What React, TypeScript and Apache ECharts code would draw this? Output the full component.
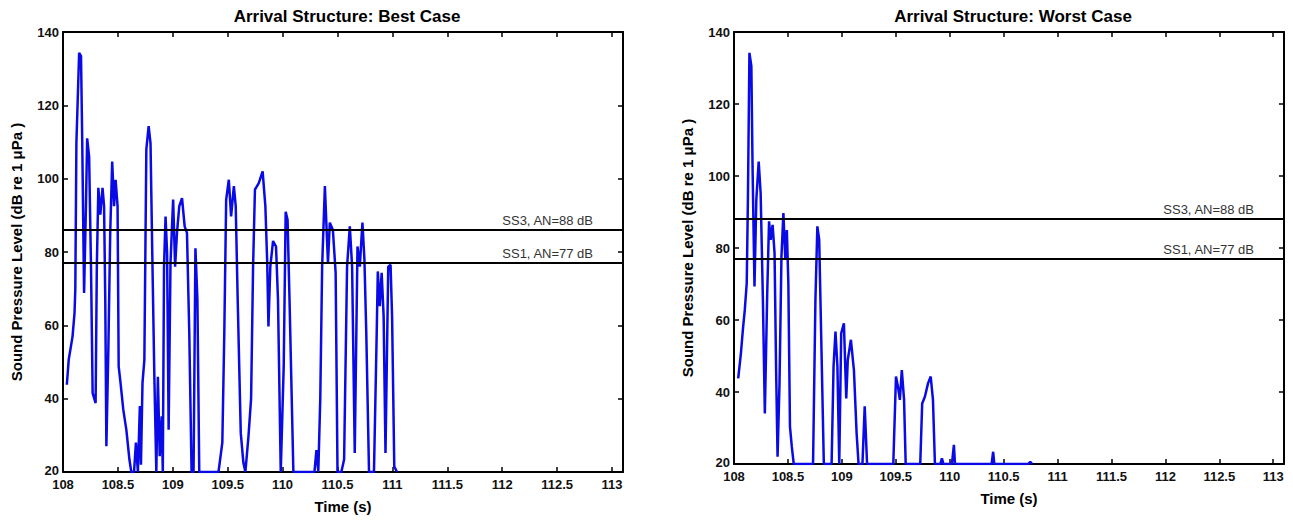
import React, { useEffect, useRef } from "react";
import * as echarts from "echarts";

const FONT = "Liberation Sans, Arial, sans-serif";

const bestTimes = [
  108.035, 108.052, 108.087, 108.105, 108.112, 108.122, 108.147, 108.164, 108.175, 108.192,
  108.21, 108.22, 108.238, 108.255, 108.27, 108.297, 108.308, 108.322, 108.34, 108.36,
  108.374, 108.385, 108.395, 108.413, 108.43, 108.448, 108.465, 108.479, 108.497, 108.507,
  108.524, 108.549, 108.577, 108.605, 108.622, 108.647, 108.664, 108.682, 108.7, 108.71,
  108.724, 108.741, 108.759, 108.78, 108.797, 108.815, 108.832, 108.85, 108.864, 108.881,
  108.899, 108.909, 108.92, 108.934, 108.948, 108.962, 108.979, 109.003, 109.021, 109.038,
  109.059, 109.084, 109.108, 109.129, 109.15, 109.171, 109.189, 109.206, 109.224, 109.241,
  109.416, 109.451, 109.469, 109.486, 109.51, 109.531, 109.556, 109.573, 109.591, 109.619,
  109.643, 109.661, 109.689, 109.713, 109.731, 109.748, 109.783, 109.818, 109.843, 109.86,
  109.871, 109.888, 109.913, 109.94, 109.958, 109.983, 110.01, 110.028, 110.045, 110.063,
  110.098, 110.29, 110.308, 110.325, 110.343, 110.36, 110.385, 110.402, 110.413, 110.43,
  110.458, 110.483, 110.5, 110.535, 110.56, 110.587, 110.612, 110.633, 110.657, 110.682,
  110.703, 110.727, 110.745, 110.762, 110.787, 110.832, 110.857, 110.867, 110.885, 110.902,
  110.92, 110.937, 110.962, 110.983, 110.997, 111.017, 111.042,
];
const bestLevels = [
  43.8, 50.6, 57, 63.4, 69.7, 109.7, 134.3, 133.4, 110.6, 68.8,
  94, 111, 106, 76, 41.5, 38.8, 76, 97.5, 90.2, 97.5,
  92.5, 67, 27, 53.4, 85.2, 104.7, 92.5, 99.7, 92.5, 48.8,
  44.3, 37, 31.5, 23.4, 20, 20, 28, 20, 38, 22,
  44.3, 50.6, 108, 114.3, 109.7, 76, 46, 20, 46, 24.3,
  35.2, 20, 76, 89.7, 79.7, 31.5, 77, 94.3, 76, 85.2,
  92.5, 94.7, 87, 85.2, 58, 20, 20, 81, 67, 20,
  20, 28, 58, 94.3, 99.7, 89.7, 98, 92.5, 67, 30.6,
  22.5, 20, 29.7, 40, 76, 97, 98.8, 102, 92.5, 77,
  59.7, 76, 83, 81.5, 67, 20, 48.8, 91, 88.8, 67,
  20, 20, 26, 20, 40, 76, 98, 85.2, 77, 88,
  86, 74.3, 20, 20, 23.4, 76, 87, 76, 25.2, 81.5,
  76, 88, 78, 58, 20, 20, 58, 74.7, 65.2, 74.3,
  62.5, 25.2, 76, 76.5, 62.5, 21.5, 20,
];

const worstTimes = [
  108.039, 108.064, 108.082, 108.1, 108.118, 108.129, 108.143, 108.161, 108.172, 108.19,
  108.207, 108.229, 108.247, 108.268, 108.286, 108.308, 108.325, 108.34, 108.358, 108.376,
  108.39, 108.404, 108.422, 108.44, 108.458, 108.476, 108.49, 108.504, 108.519, 108.536,
  108.554, 108.733, 108.755, 108.773, 108.79, 108.808, 108.833, 108.905, 108.923, 108.941,
  108.959, 108.976, 108.994, 109.019, 109.041, 109.055, 109.084, 109.112, 109.137, 109.155,
  109.191, 109.212, 109.234, 109.477, 109.502, 109.52, 109.538, 109.556, 109.577, 109.592,
  109.727, 109.745, 109.77, 109.799, 109.824, 109.845, 109.863, 109.913, 109.928, 109.942,
  110.021, 110.039, 110.049, 110.389, 110.403, 110.414, 110.729, 110.747, 110.765,
];
const worstLevels = [
  43.8, 50.7, 57.2, 62.8, 70.2, 93.4, 134.2, 130.5, 102.6, 69.3,
  93.4, 104, 95.2, 65.6, 34, 67.4, 87.4, 82.3, 86.4, 78.6,
  47, 22, 42.4, 77.6, 89.7, 76.7, 85, 70.2, 30.4, 24.8,
  20, 20, 65.6, 86, 82.3, 56.3, 20, 20, 47, 56.8,
  47, 20, 56.3, 59.1, 38.2, 48.9, 54.5, 46.1, 28.5, 20,
  20, 36, 20, 20, 44.3, 41.5, 37.8, 46.1, 37.8, 20,
  20, 36.8, 38.7, 42.4, 44.3, 37.8, 20, 20, 21.6, 20,
  20, 25.3, 20, 20, 23.4, 20, 20, 20.6, 20,
];

const thresholdLabels = ["SS3, AN=88 dB", "SS1, AN=77 dB"];
const bestThresholds = [86, 77];
const worstThresholds = [88, 77];
const titles = ["Arrival Structure: Best Case", "Arrival Structure: Worst Case"];
const xTitle = "Time (s)";
const yTitle = "Sound Pressure Level (dB re 1 μPa )";

const X_MIN = 108;
const X_MAX = 113.1;
const Y_MIN = 20;
const Y_MAX = 140;

function xAxes(gridIndex: number) {
  const common = {
    type: "value",
    gridIndex,
    min: X_MIN,
    max: X_MAX,
    interval: 0.5,
    splitLine: { show: false },
    axisLine: { show: true, onZero: false, lineStyle: { color: "#000", width: 2 } },
    axisTick: { show: true, inside: true, length: 5, lineStyle: { color: "#000", width: 1.5 } },
  };
  return [
    {
      ...common,
      position: "bottom",
      name: xTitle,
      nameLocation: "middle",
      nameGap: 27,
      nameTextStyle: { color: "#000", fontWeight: "bold", fontSize: 15, fontFamily: FONT },
      axisLabel: {
        color: "#111",
        fontWeight: "bold",
        fontSize: 13,
        lineHeight: 13,
        fontFamily: FONT,
        margin: 6,
        showMaxLabel: false,
        formatter: (v: number) => (Math.abs(v * 2 - Math.round(v * 2)) < 1e-6 ? String(v) : ""),
      },
    },
    { ...common, position: "top", axisLabel: { show: false } },
  ];
}

function yAxes(gridIndex: number) {
  const common = {
    type: "value",
    gridIndex,
    min: Y_MIN,
    max: Y_MAX,
    interval: 20,
    splitLine: { show: false },
    axisLine: { show: true, onZero: false, lineStyle: { color: "#000", width: 2 } },
    axisTick: { show: true, inside: true, length: 5, lineStyle: { color: "#000", width: 1.5 } },
  };
  return [
    {
      ...common,
      position: "left",
      name: yTitle,
      nameLocation: "middle",
      nameGap: 39,
      nameTextStyle: { color: "#000", fontWeight: "bold", fontSize: 15, fontFamily: FONT },
      axisLabel: {
        color: "#111",
        fontWeight: "bold",
        fontSize: 13,
        lineHeight: 12,
        fontFamily: FONT,
        margin: 4,
        formatter: (v: number) => (v === Y_MIN ? "{low|" + v + "}" : String(v)),
        rich: { low: { fontWeight: "bold", fontSize: 13, lineHeight: 12, padding: [0, 0, 3, 0] } },
      },
    },
    { ...common, position: "right", axisLabel: { show: false } },
  ];
}

function signalSeries(times: number[], levels: number[], thresholds: number[], axisIndex: number) {
  return {
    type: "line",
    xAxisIndex: axisIndex,
    yAxisIndex: axisIndex,
    data: times.map((t, i) => [t, levels[i]]),
    showSymbol: false,
    symbol: "none",
    clip: true,
    lineStyle: { color: "#0a0ae6", width: 2.5 },
    markLine: {
      silent: true,
      symbol: ["none", "none"],
      animation: false,
      lineStyle: { color: "#000", width: 2, type: "solid" },
      label: {
        show: true,
        position: "insideEndTop",
        distance: [30, 3],
        color: "#333",
        fontSize: 13,
        fontFamily: FONT,
        formatter: (p: any) => p.name,
      },
      data: thresholds.map((v, i) => ({ yAxis: v, name: thresholdLabels[i] })),
    },
  };
}

export default function App() {
  const ref = useRef<HTMLDivElement>(null);
  useEffect(() => {
    if (!ref.current) return;
    const chart = echarts.init(ref.current, undefined, { renderer: "svg" });
    chart.setOption({
      animation: false,
      backgroundColor: "#fff",
      title: [
        {
          text: titles[0],
          left: 342,
          top: 3,
          textAlign: "center",
          textStyle: { color: "#000", fontWeight: "bold", fontSize: 17, fontFamily: FONT },
        },
        {
          text: titles[1],
          left: 1008,
          top: 3,
          textAlign: "center",
          textStyle: { color: "#000", fontWeight: "bold", fontSize: 17, fontFamily: FONT },
        },
      ],
      grid: [
        { left: 63, top: 32, width: 560, height: 440 },
        { left: 734, top: 32, width: 550, height: 432 },
      ],
      xAxis: [...xAxes(0), ...xAxes(1)],
      yAxis: [...yAxes(0), ...yAxes(1)],
      series: [
        signalSeries(bestTimes, bestLevels, bestThresholds, 0),
        signalSeries(worstTimes, worstLevels, worstThresholds, 2),
      ],
    });
    return () => chart.dispose();
  }, []);
  return (
    <div
      ref={ref}
      style={{ position: "absolute", left: 0, top: 0, width: 1293, height: 520 }}
    />
  );
}
